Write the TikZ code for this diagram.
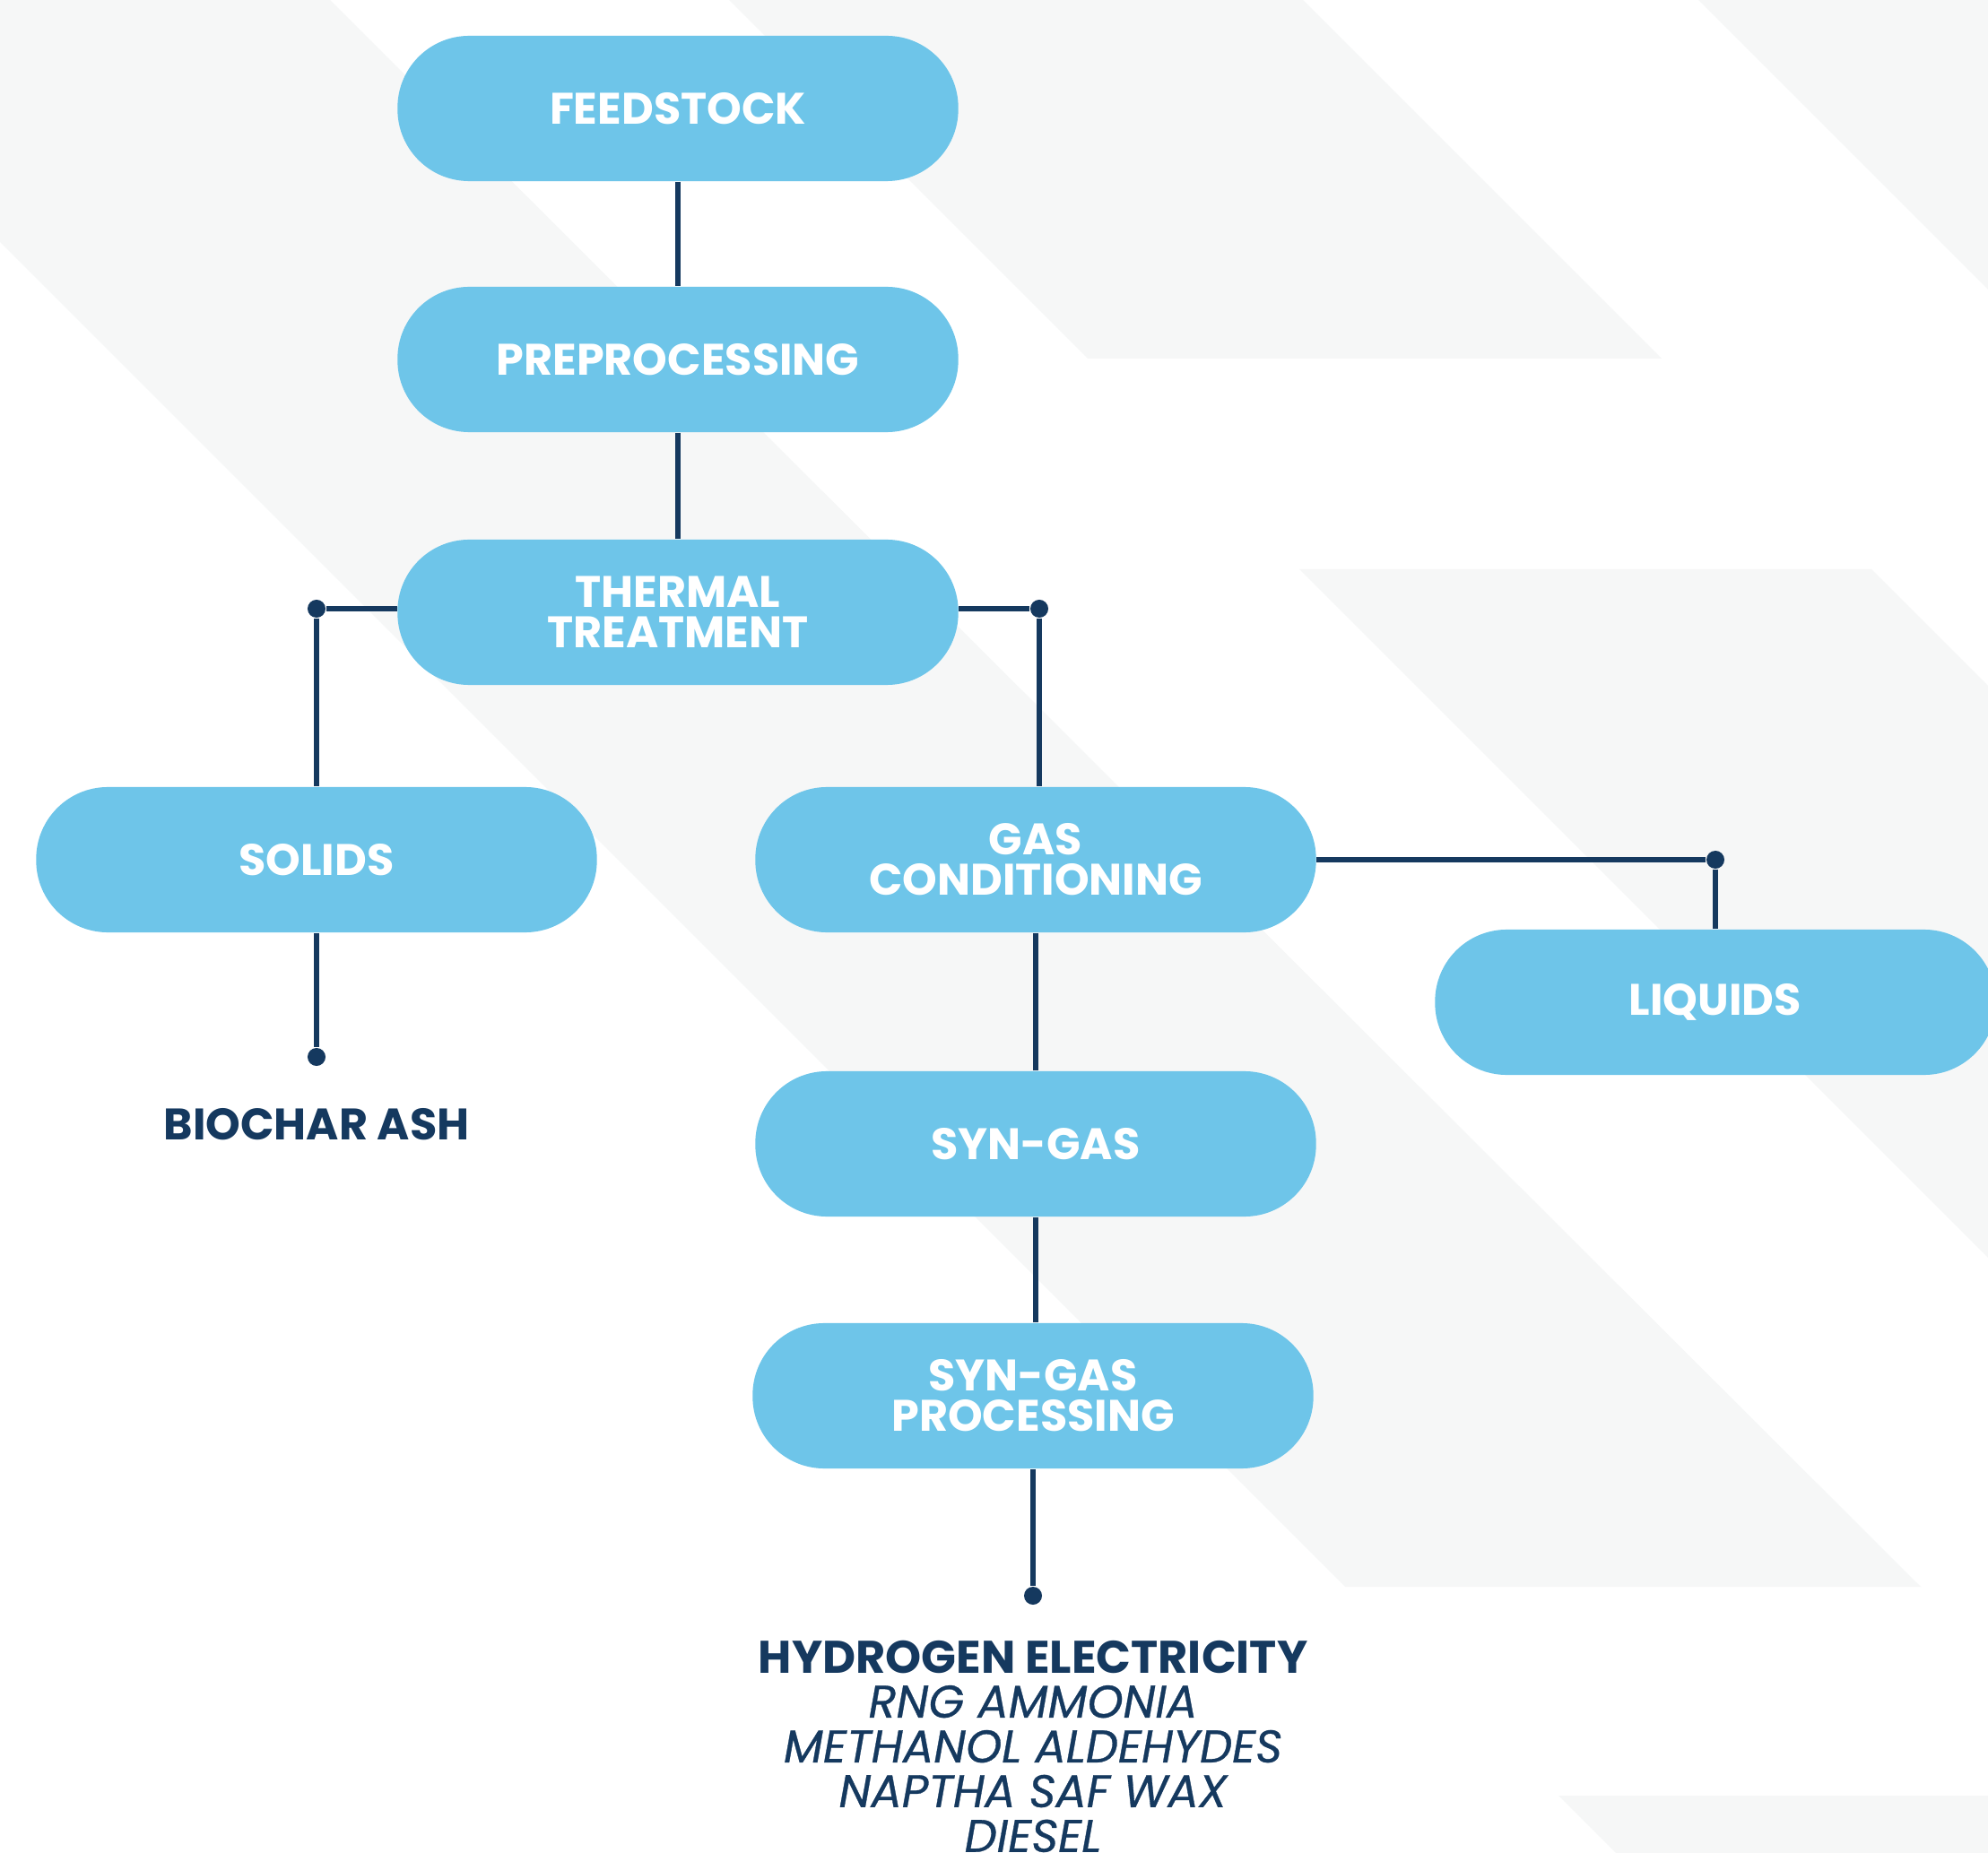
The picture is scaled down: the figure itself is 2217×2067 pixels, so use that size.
\documentclass[tikz,border=0pt]{standalone}
\usepackage{fontspec}
\setmainfont{Poppins}
\newfontfamily\fuelfont[FakeBold=0.6]{Poppins}
\definecolor{pill}{HTML}{6EC5E9}
\definecolor{navy}{HTML}{15395F}
\definecolor{band}{HTML}{F6F7F7}

\begin{document}
\begin{tikzpicture}[x=0.01cm,y=-0.01cm]
\tikzset{stage/.style={fill=pill, rounded corners=0.8cm, minimum width=6.25cm, minimum height=1.62cm, inner sep=0pt,
  text=white, align=center, font=\bfseries\fontsize{14}{12.8}\selectfont}}
\tikzset{link/.style={draw=navy, line width=1.6pt}}
\tikzset{joint/.style={circle, fill=navy, minimum size=0.2cm, inner sep=0pt}}
\tikzset{product/.style={text=navy, align=center, inner sep=0pt, font=\fontsize{14.5}{14.2}\selectfont}}

\useasboundingbox (0,0) rectangle (2217,2067);

% background bands
\begin{scope}
\clip (0,0) rectangle (2217,2067);
\fill[white] (0,0) rectangle (2217,2067);
\fill[band] (-270,0) -- (368,0) -- (2142,1770) -- (1500,1770) -- cycle;
\fill[band] (813,0) -- (1453,0) -- (1853,400) -- (1213,400) -- cycle;
\fill[band] (1894,0) -- (2300,0) -- (2300,406) -- cycle;
\fill[band] (1449,635) -- (2087,635) -- (2300,848) -- (2300,1486) -- cycle;
\fill[band] (1738,2003) -- (2300,2003) -- (2300,2100) -- (1835,2100) -- cycle;
\end{scope}

% stages
\node[stage] (feed) at (756,121) {FEEDSTOCK};
\node[stage] (prep) at (756,401) {PREPROCESSING};
\node[stage] (therm) at (756,683) {THERMAL\\TREATMENT};
\node[stage] (solids) at (353,959) {SOLIDS};
\node[stage] (gascond) at (1155,959) {GAS\\CONDITIONING};
\node[stage] (liquids) at (1913,1118) {LIQUIDS};
\node[stage] (syngas) at (1155,1276) {SYN-GAS};
\node[stage] (sgproc) at (1152,1557) {SYN-GAS\\PROCESSING};

% joints
\node[joint] (jl) at (353,679) {};
\node[joint] (jr) at (1159,679) {};
\node[joint] (jliq) at (1913,959) {};
\node[joint] (jbio) at (353,1179) {};
\node[joint] (jout) at (1152,1780) {};

% links
\draw[link] (feed) -- (prep);
\draw[link] (prep) -- (therm);
\draw[link] (therm.west |- jl) -- (jl) -- (solids);
\draw[link] (therm.east |- jr) -- (jr) -- (jr |- gascond.north);
\draw[link] (solids) -- (jbio);
\draw[link] (gascond.east) -- (jliq) -- (liquids);
\draw[link] (gascond) -- (syngas);
\draw[link] (syngas.south) -- (syngas.south |- sgproc.north);
\draw[link] (sgproc) -- (jout);

% outputs
\node[product, font=\bfseries\fontsize{14}{14.2}\selectfont] (biochar) at (353,1254) {BIOCHAR ASH};
\node[product, anchor=north] (fuels) at (1152,1829) {\textbf{HYDROGEN ELECTRICITY}\\{\fuelfont\itshape RNG AMMONIA}\\{\fuelfont\itshape METHANOL ALDEHYDES}\\{\fuelfont\itshape NAPTHA SAF WAX}\\{\fuelfont\itshape DIESEL}};
\end{tikzpicture}
\end{document}
